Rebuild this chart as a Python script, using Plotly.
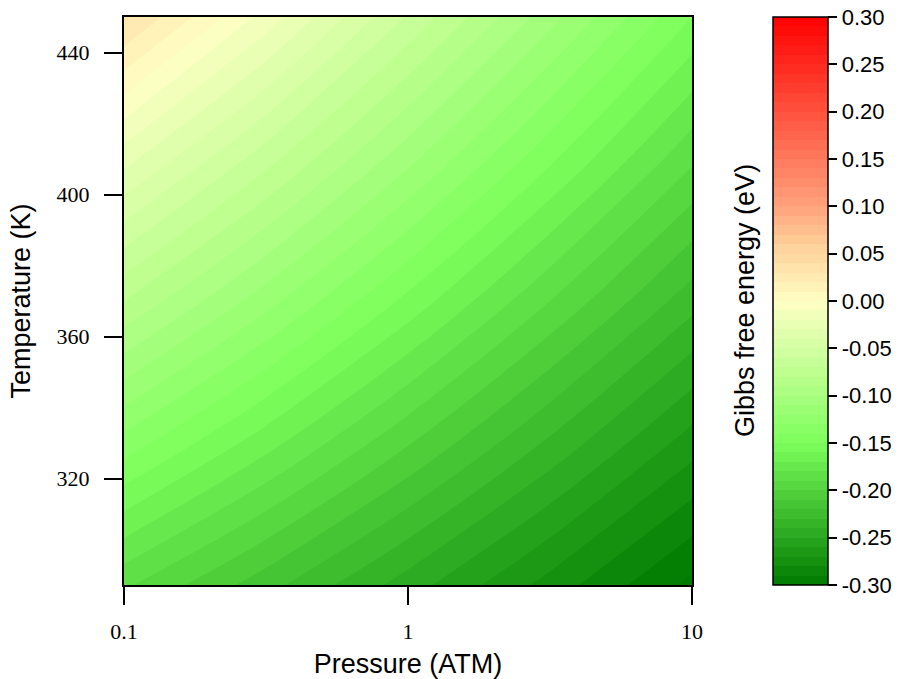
import plotly.graph_objects as go

# Pressure (ATM) grid, Temperature (K) grid and Gibbs free energy (eV)
pressure = [0.1, 0.316, 1, 3.16, 10]
temperature = [290, 330, 370, 410, 450]
gibbs = [
    [-0.188, -0.216, -0.245, -0.274, -0.303],
    [-0.134, -0.166, -0.199, -0.232, -0.265],
    [-0.080, -0.116, -0.153, -0.190, -0.226],
    [-0.026, -0.066, -0.107, -0.148, -0.188],
    [0.032, -0.014, -0.061, -0.106, -0.150],
]
cb_ticks = [-0.30, -0.25, -0.20, -0.15, -0.10, -0.05, 0.00, 0.05, 0.10, 0.15, 0.20, 0.25, 0.30]
cb_labels = ["-0.30", "-0.25", "-0.20", "-0.15", "-0.10", "-0.05", "0.00",
             "0.05", "0.10", "0.15", "0.20", "0.25", "0.30"]
x_ticks = [0.1, 1, 10]
x_labels = ["0.1", "1", "10"]
y_ticks = [320, 360, 400, 440]

colorscale = [
    [0.0, "#007a00"],
    [0.25, "#7cff5c"],
    [0.5, "#ffffc4"],
    [0.6, "#ffcf98"],
    [0.67, "#ffa07a"],
    [1.0, "#ff0000"],
]

fig = go.Figure()
fig.add_trace(go.Contour(
    x=pressure, y=temperature, z=gibbs,
    zmin=-0.30, zmax=0.30,
    colorscale=colorscale,
    autocontour=False,
    contours=dict(start=-0.30, end=0.30, size=0.01, coloring="fill", showlines=False),
    line=dict(width=0),
    colorbar=dict(
        x=(773 - 124) / 568, xanchor="left", xpad=0,
        y=0.5, yanchor="middle", ypad=0,
        len=1, lenmode="fraction",
        thickness=55, thicknessmode="pixels",
        outlinecolor="black", outlinewidth=1.5,
        ticks="outside", ticklen=9, tickwidth=1.5, tickcolor="black",
        tickvals=cb_ticks, ticktext=cb_labels,
        tickfont=dict(family="Liberation Sans, Arial", size=22, color="black"),
    ),
))

fig.update_layout(
    width=901, height=679,
    margin=dict(l=124, r=209, t=17, b=94, autoexpand=False),
    paper_bgcolor="white", plot_bgcolor="white",
    xaxis=dict(
        type="log", range=[-1, 1],
        tickvals=x_ticks, ticktext=x_labels,
        ticks="outside", ticklen=18, tickwidth=1.5, tickcolor="black",
        ticklabelstandoff=8,
        showline=True, linecolor="black", linewidth=2, mirror=True,
        showgrid=False, zeroline=False,
        tickfont=dict(family="Liberation Serif, Times New Roman", size=22, color="black"),
        title=dict(text="Pressure (ATM)", standoff=12,
                   font=dict(family="Liberation Sans, Arial", size=27, color="black")),
    ),
    yaxis=dict(
        range=[290, 450],
        tickvals=y_ticks,
        ticks="outside", ticklen=18, tickwidth=1.5, tickcolor="black",
        ticklabelstandoff=10,
        showline=True, linecolor="black", linewidth=2, mirror=True,
        showgrid=False, zeroline=False,
        tickfont=dict(family="Liberation Serif, Times New Roman", size=22, color="black"),
        title=dict(text="Temperature (K)", standoff=18,
                   font=dict(family="Liberation Sans, Arial", size=27, color="black")),
    ),
    annotations=[dict(
        text="Gibbs free energy (eV)", textangle=-90,
        x=(745 - 124) / 568, y=0.5, xref="paper", yref="paper",
        xanchor="center", yanchor="middle", showarrow=False,
        font=dict(family="Liberation Sans, Arial", size=27, color="black"),
    )],
)

fig.write_html("out.html")
